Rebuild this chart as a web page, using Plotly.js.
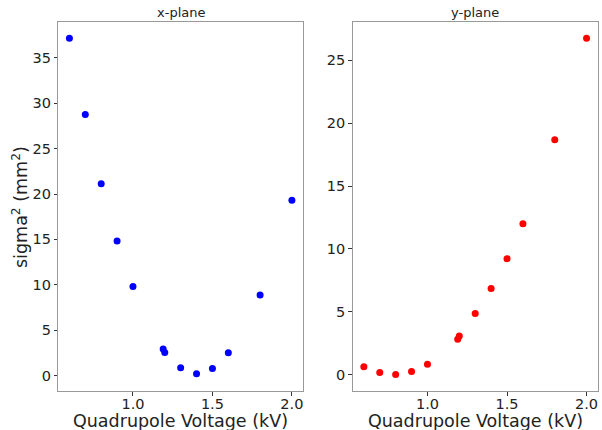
<!DOCTYPE html>
<html>
<head>
<meta charset="utf-8">
<script src="https://cdn.plot.ly/plotly-3.0.1.min.js"></script>
<style>html,body{margin:0;padding:0;background:#fff;}#chart{width:602px;height:430px;}</style>
</head>
<body>
<div id="chart"></div>
<script>
const voltage = [0.6, 0.7, 0.8, 0.9, 1.0, 1.19, 1.2, 1.3, 1.4, 1.5, 1.6, 1.8, 2.0];
const sigmaX = [37.17, 28.77, 21.13, 14.83, 9.80, 2.94, 2.53, 0.85, 0.19, 0.77, 2.50, 8.88, 19.30];
const sigmaY = [0.64, 0.19, 0.03, 0.27, 0.85, 2.84, 3.08, 4.88, 6.87, 9.23, 12.01, 18.67, 26.73];
const panelTitles = ["x-plane", "y-plane"];
const xTitle = "Quadrupole Voltage (kV)";
const yTitle = "sigma<sup>2</sup> (mm<sup>2</sup>)";

const font = "DejaVu Sans, Arial, sans-serif";
const traces = [
  {x: voltage, y: sigmaX, type: "scatter", mode: "markers", xaxis: "x", yaxis: "y",
   marker: {color: "#0000ff", size: 7}},
  {x: voltage, y: sigmaY, type: "scatter", mode: "markers", xaxis: "x2", yaxis: "y2",
   marker: {color: "#ff0000", size: 7}}
];
const axBase = {
  showline: true, mirror: true, linecolor: "#999", linewidth: 1,
  showgrid: false, zeroline: false, ticks: "outside", ticklen: 3.5, tickcolor: "#333",
  tickfont: {size: 14.5, color: "#222", family: font}
};
const yDom = [39/430, 408/430];
const layout = {
  width: 602, height: 430, margin: {l: 0, r: 0, t: 0, b: 0},
  paper_bgcolor: "#fff", plot_bgcolor: "#fff", showlegend: false,
  font: {family: font, color: "#222"},
  xaxis: Object.assign({}, axBase, {domain: [58.3/602, 303/602], range: [0.53, 2.07], tickvals: [1.0, 1.5, 2.0], ticktext: ["1.0", "1.5", "2.0"], anchor: "y", ticklabelstandoff: -4}),
  yaxis: Object.assign({}, axBase, {domain: yDom, range: [-1.7, 38.95], tickvals: [0, 5, 10, 15, 20, 25, 30, 35], anchor: "x"}),
  xaxis2: Object.assign({}, axBase, {domain: [352.7/602, 597.7/602], range: [0.53, 2.07], tickvals: [1.0, 1.5, 2.0], ticktext: ["1.0", "1.5", "2.0"], anchor: "y2", ticklabelstandoff: -4}),
  yaxis2: Object.assign({}, axBase, {domain: yDom, range: [-1.28, 28.03], tickvals: [0, 5, 10, 15, 20, 25], anchor: "x2"}),
  annotations: [
    {text: panelTitles[0], xref: "paper", yref: "paper", x: (58.3+303)/2/602, y: 1-13/430, xanchor: "center", yanchor: "middle", showarrow: false, font: {size: 13, family: font, color: "#222"}},
    {text: panelTitles[1], xref: "paper", yref: "paper", x: (352.7+597.7)/2/602, y: 1-13/430, xanchor: "center", yanchor: "middle", showarrow: false, font: {size: 13, family: font, color: "#222"}},
    {text: xTitle, xref: "paper", yref: "paper", x: (58.3+303)/2/602, y: 0, xanchor: "center", yanchor: "bottom", yshift: -3, showarrow: false, font: {size: 17.5, family: font, color: "#222"}},
    {text: xTitle, xref: "paper", yref: "paper", x: (352.7+597.7)/2/602, y: 0, xanchor: "center", yanchor: "bottom", yshift: -3, showarrow: false, font: {size: 17.5, family: font, color: "#222"}},
    {text: yTitle, xref: "paper", yref: "paper", x: 20/602, y: 1-207/430, xanchor: "center", yanchor: "middle", textangle: -90, showarrow: false, font: {size: 17.5, family: font, color: "#222"}}
  ]
};
Plotly.newPlot("chart", traces, layout, {staticPlot: true, displayModeBar: false});
</script>
</body>
</html>
